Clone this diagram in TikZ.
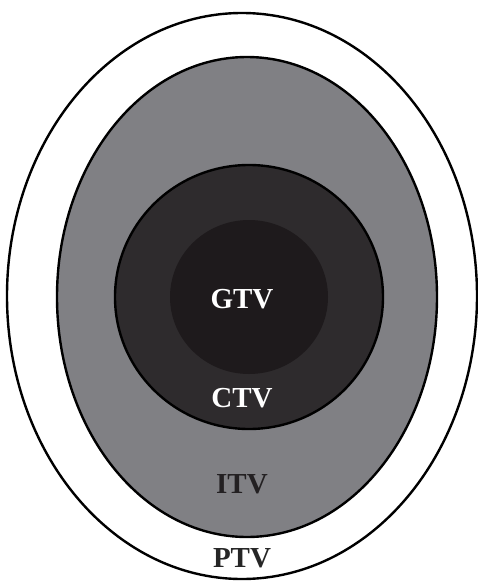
\documentclass[tikz,border=0pt]{standalone}
\usepackage{fontspec}
\setmainfont{Liberation Serif}
\definecolor{itvgray}{RGB}{128,128,132}
\definecolor{ctvdark}{RGB}{46,43,45}
\definecolor{gtvdark}{RGB}{30,26,28}
\definecolor{itvtext}{RGB}{35,32,34}
\begin{document}
\begin{tikzpicture}[x=1pt,y=-1pt,
  zone/.style={line width=2.4pt,draw=black},
  lbl/.style={font=\bfseries\fontsize{29}{32}\selectfont,inner sep=0pt,anchor=center}]
\useasboundingbox (0,0) rectangle (478,581);
\fill[white] (0,0) rectangle (478,581);
\draw[zone,fill=white] (242,296) ellipse [x radius=235, y radius=283];
\draw[zone,fill=itvgray] (247,297) ellipse [x radius=190, y radius=240];
\draw[zone,fill=ctvdark] (249,297) ellipse [x radius=134, y radius=132];
\fill[gtvdark] (249,297) ellipse [x radius=79, y radius=77];
\node[lbl,text=white] (gtv) at (242,299) {GTV};
\node[lbl,text=white] (ctv) at (242,398) {CTV};
\node[lbl,text=itvtext] (itv) at (242,484) {ITV};
\node[lbl,text=black!85] (ptv) at (242,558) {PTV};
\end{tikzpicture}
\end{document}
